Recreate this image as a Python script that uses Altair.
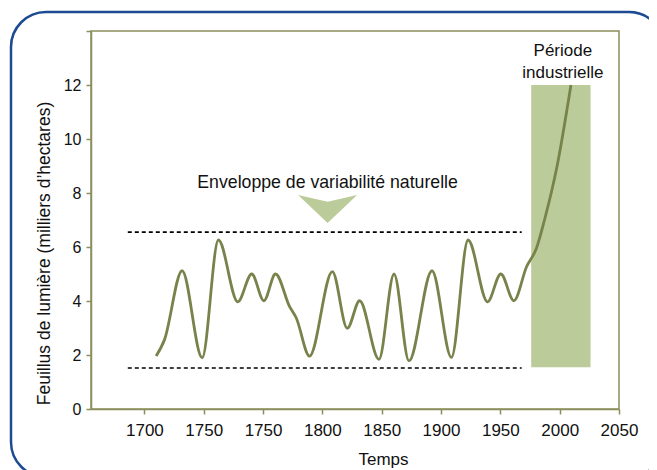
import altair as alt
import pandas as pd

# ---- data ----
years = [1659.9, 1666.9, 1681.8, 1698.7, 1712.4, 1728.7, 1740.5, 1750.7, 1760.5,
         1772.4, 1778.0, 1789.2, 1808.4, 1821.0, 1831.4, 1847.7, 1860.4, 1873.0,
         1892.4, 1908.8, 1922.8, 1939.2, 1950.4, 1961.4, 1972.1, 1980.5, 1987.2,
         1997.7, 2009.5]
values = [1.96, 2.56, 5.12, 1.90, 6.26, 3.97, 5.00, 4.01, 5.00,
          3.79, 3.37, 1.96, 5.09, 2.99, 4.01, 1.84, 5.00, 1.78,
          5.12, 1.91, 6.26, 3.97, 5.00, 4.01, 5.27, 5.96, 7.00,
          8.97, 12.0]

x_tick_values = [1650, 1700, 1750, 1800, 1850, 1900, 1950, 2000, 2050]
x_tick_labels = ["1700", "1750", "1750", "1800", "1850", "1900", "1950", "2000", "2050"]
y_tick_values = [0, 2, 4, 6, 8, 10, 12, 14]
y_tick_labels = ["0", "2", "4", "6", "8", "10", "12", ""]

envelope_start = [1636, 1636]
envelope_end = [1968, 1968]
envelope_level = [6.55, 1.52]

industrial_x = [1976]
industrial_x2 = [2026]
industrial_y = [1.55]
industrial_y2 = [12.0]

envelope_label = ["Enveloppe de variabilité naturelle"]
envelope_label_x = [1804.4]
envelope_label_y = [8.37]
arrow_x = [1804.4]
arrow_y = [7.41]

industrial_label = ["Période", "industrielle"]
industrial_label_x = [2002.7, 2002.7]
industrial_label_y = [13.27, 12.46]

FONT = "Liberation Sans"
OLIVE = "#8a8f5c"
LINE = "#77834b"
GREEN = "#bccb9a"


def label_expr(vals, labels):
    expr = "datum.label"
    for v, l in zip(reversed(vals), reversed(labels)):
        expr = f"datum.value == {v} ? '{l}' : ({expr})"
    return expr


xs = alt.Scale(domain=[1605, 2050], nice=False, zero=False)
ys = alt.Scale(domain=[0, 14], nice=False, zero=True)

x_axis = alt.Axis(values=x_tick_values, labelExpr=label_expr(x_tick_values, x_tick_labels),
                  labelFontSize=17, labelPadding=8, title="Temps", titleFontSize=17,
                  titleX=292, titleY=55, titleBaseline="alphabetic", titleAlign="center")
y_axis = alt.Axis(values=y_tick_values, labelExpr=label_expr(y_tick_values, y_tick_labels),
                  labelFontSize=16, labelPadding=5,
                  title="Feuillus de lumière (milliers d’hectares)", titleFontSize=17.5,
                  titleX=-47, titleY=222, titleAngle=-90, titleBaseline="middle",
                  titleAlign="center")


def X(field):
    return alt.X(field, type="quantitative", scale=xs, axis=x_axis)


def Y(field):
    return alt.Y(field, type="quantitative", scale=ys, axis=y_axis)


line_df = pd.DataFrame({"year": years, "value": values})
env_df = pd.DataFrame({"x": envelope_start, "x2": envelope_end, "y": envelope_level})
ind_df = pd.DataFrame({"x": industrial_x, "x2": industrial_x2, "y": industrial_y, "y2": industrial_y2})
envlab_df = pd.DataFrame({"x": envelope_label_x, "y": envelope_label_y, "t": envelope_label})
arrow_df = pd.DataFrame({"x": arrow_x, "y": arrow_y})
indlab_df = pd.DataFrame({"x": industrial_label_x, "y": industrial_label_y, "t": industrial_label})

industrial_rect = alt.Chart(ind_df).mark_rect(color=GREEN).encode(
    x=X("x"), x2="x2", y=Y("y"), y2="y2")

env_rules = alt.Chart(env_df).mark_rule(color="#000000", strokeWidth=1.6, strokeDash=[4, 3]).encode(
    x=X("x"), x2="x2", y=Y("y"))

line = alt.Chart(line_df).mark_line(color=LINE, strokeWidth=2.8, interpolate="monotone").encode(
    x=X("year"), y=Y("value"))

arrow = alt.Chart(arrow_df).mark_point(
    shape="M -1 -0.475 L 0 -0.24 L 1 -0.475 L 0 0.475 Z", size=3481, filled=True,
    fill=GREEN, opacity=1, strokeWidth=0).encode(x=X("x"), y=Y("y"))

env_text = alt.Chart(envlab_df).mark_text(font=FONT, fontSize=17.7, color="#111111",
                                          align="center", baseline="middle").encode(
    x=X("x"), y=Y("y"), text="t")

ind_text = alt.Chart(indlab_df).mark_text(font=FONT, fontSize=17, color="#111111",
                                          align="center", baseline="middle").encode(
    x=X("x"), y=Y("y"), text="t")

border = alt.Chart(pd.DataFrame({"a": [0]})).mark_rect(
    cornerRadius=35, fillOpacity=0, stroke="#1c4b93", strokeWidth=2.5).encode(
    x=alt.value(-80), x2=alt.value(573), y=alt.value(-19), y2=alt.value(446))

chart = alt.layer(industrial_rect, env_rules, line, arrow, env_text, ind_text, border).properties(
    width=528, height=378,
    padding={"left": 83, "top": 23, "right": 30, "bottom": 61},
    autosize=alt.AutoSizeParams(type="none"),
    background="#ffffff",
).configure_view(stroke=OLIVE, strokeWidth=1.5).configure_axis(
    domainColor=OLIVE, domainWidth=1.5, tickColor=OLIVE, tickWidth=1.5, tickSize=5,
    labelFont=FONT, titleFont=FONT, labelColor="#111111", titleColor="#111111",
    titleFontWeight="normal", grid=False, labelFlush=False, labelOverlap=False,
)

chart.save("out.html", embed_options={"renderer": "svg", "actions": False})
